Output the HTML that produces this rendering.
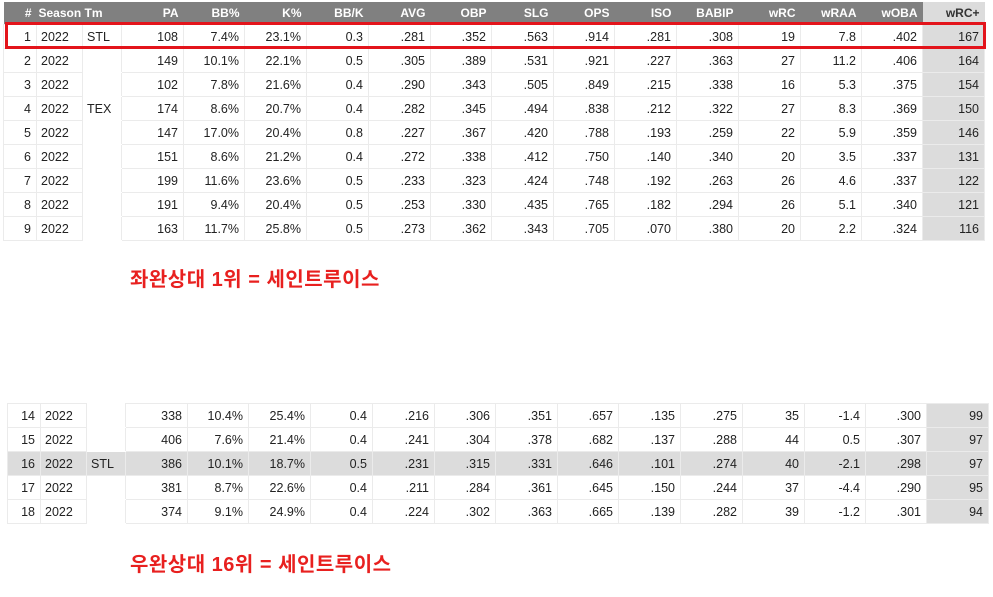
<!DOCTYPE html>
<html><head><meta charset="utf-8"><style>
body{margin:0;width:993px;height:597px;background:#fff;position:relative;overflow:hidden;font-family:"Liberation Sans","Noto Sans CJK KR",sans-serif;}
table{border-collapse:collapse;position:absolute;font-size:12.5px;color:#222;table-layout:fixed;}
td,th{height:23px;padding:0 5px;text-align:right;border:1px solid #ebebeb;white-space:nowrap;overflow:hidden;}
th{background:#808080;color:#fff;font-weight:bold;height:22px;border:none;font-size:12px;}
th.w{background:#dcdcdc;color:#333;}
td.w{background:#dcdcdc;}
td.l,th.l{text-align:left;padding-left:4px;}
th.l{padding-left:2px;padding-right:0;}
tr.g td{background:#dcdcdc;}
td.t{border-top-color:#fff;border-bottom-color:#fff;}
.lab{position:absolute;color:#e8201f;font-weight:bold;font-size:20px;letter-spacing:0.5px;}
.box{position:absolute;left:5px;top:22px;width:975px;height:21px;border:3px solid #e3141b;}
</style></head><body>
<table style="left:3px;top:2px;width:981px">
<colgroup><col style="width:33px"><col style="width:46px"><col style="width:39px"><col style="width:62px"><col style="width:61px"><col style="width:62px"><col style="width:62px"><col style="width:62px"><col style="width:61px"><col style="width:62px"><col style="width:61px"><col style="width:62px"><col style="width:62px"><col style="width:62px"><col style="width:61px"><col style="width:61px"><col style="width:62px"></colgroup>
<tr><th>#</th><th class="l">Season</th><th class="l">Tm</th><th>PA</th><th>BB%</th><th>K%</th><th>BB/K</th><th>AVG</th><th>OBP</th><th>SLG</th><th>OPS</th><th>ISO</th><th>BABIP</th><th>wRC</th><th>wRAA</th><th>wOBA</th><th class="w">wRC+</th></tr>
<tr><td>1</td><td class="l">2022</td><td class="l">STL</td><td>108</td><td>7.4%</td><td>23.1%</td><td>0.3</td><td>.281</td><td>.352</td><td>.563</td><td>.914</td><td>.281</td><td>.308</td><td>19</td><td>7.8</td><td>.402</td><td class="w">167</td></tr>
<tr><td>2</td><td class="l">2022</td><td class="l t"></td><td>149</td><td>10.1%</td><td>22.1%</td><td>0.5</td><td>.305</td><td>.389</td><td>.531</td><td>.921</td><td>.227</td><td>.363</td><td>27</td><td>11.2</td><td>.406</td><td class="w">164</td></tr>
<tr><td>3</td><td class="l">2022</td><td class="l t"></td><td>102</td><td>7.8%</td><td>21.6%</td><td>0.4</td><td>.290</td><td>.343</td><td>.505</td><td>.849</td><td>.215</td><td>.338</td><td>16</td><td>5.3</td><td>.375</td><td class="w">154</td></tr>
<tr><td>4</td><td class="l">2022</td><td class="l t">TEX</td><td>174</td><td>8.6%</td><td>20.7%</td><td>0.4</td><td>.282</td><td>.345</td><td>.494</td><td>.838</td><td>.212</td><td>.322</td><td>27</td><td>8.3</td><td>.369</td><td class="w">150</td></tr>
<tr><td>5</td><td class="l">2022</td><td class="l t"></td><td>147</td><td>17.0%</td><td>20.4%</td><td>0.8</td><td>.227</td><td>.367</td><td>.420</td><td>.788</td><td>.193</td><td>.259</td><td>22</td><td>5.9</td><td>.359</td><td class="w">146</td></tr>
<tr><td>6</td><td class="l">2022</td><td class="l t"></td><td>151</td><td>8.6%</td><td>21.2%</td><td>0.4</td><td>.272</td><td>.338</td><td>.412</td><td>.750</td><td>.140</td><td>.340</td><td>20</td><td>3.5</td><td>.337</td><td class="w">131</td></tr>
<tr><td>7</td><td class="l">2022</td><td class="l t"></td><td>199</td><td>11.6%</td><td>23.6%</td><td>0.5</td><td>.233</td><td>.323</td><td>.424</td><td>.748</td><td>.192</td><td>.263</td><td>26</td><td>4.6</td><td>.337</td><td class="w">122</td></tr>
<tr><td>8</td><td class="l">2022</td><td class="l t"></td><td>191</td><td>9.4%</td><td>20.4%</td><td>0.5</td><td>.253</td><td>.330</td><td>.435</td><td>.765</td><td>.182</td><td>.294</td><td>26</td><td>5.1</td><td>.340</td><td class="w">121</td></tr>
<tr><td>9</td><td class="l">2022</td><td class="l t"></td><td>163</td><td>11.7%</td><td>25.8%</td><td>0.5</td><td>.273</td><td>.362</td><td>.343</td><td>.705</td><td>.070</td><td>.380</td><td>20</td><td>2.2</td><td>.324</td><td class="w">116</td></tr>
</table>
<div class="box"></div>
<div class="lab" style="left:130px;top:263px">좌완상대 1위 = 세인트루이스</div>
<table style="left:7px;top:403px;width:981px">
<colgroup><col style="width:33px"><col style="width:46px"><col style="width:39px"><col style="width:62px"><col style="width:61px"><col style="width:62px"><col style="width:62px"><col style="width:62px"><col style="width:61px"><col style="width:62px"><col style="width:61px"><col style="width:62px"><col style="width:62px"><col style="width:62px"><col style="width:61px"><col style="width:61px"><col style="width:62px"></colgroup>
<tr><td>14</td><td class="l">2022</td><td class="l t"></td><td>338</td><td>10.4%</td><td>25.4%</td><td>0.4</td><td>.216</td><td>.306</td><td>.351</td><td>.657</td><td>.135</td><td>.275</td><td>35</td><td>-1.4</td><td>.300</td><td class="w">99</td></tr>
<tr><td>15</td><td class="l">2022</td><td class="l t"></td><td>406</td><td>7.6%</td><td>21.4%</td><td>0.4</td><td>.241</td><td>.304</td><td>.378</td><td>.682</td><td>.137</td><td>.288</td><td>44</td><td>0.5</td><td>.307</td><td class="w">97</td></tr>
<tr class="g"><td>16</td><td class="l">2022</td><td class="l">STL</td><td>386</td><td>10.1%</td><td>18.7%</td><td>0.5</td><td>.231</td><td>.315</td><td>.331</td><td>.646</td><td>.101</td><td>.274</td><td>40</td><td>-2.1</td><td>.298</td><td class="w">97</td></tr>
<tr><td>17</td><td class="l">2022</td><td class="l t"></td><td>381</td><td>8.7%</td><td>22.6%</td><td>0.4</td><td>.211</td><td>.284</td><td>.361</td><td>.645</td><td>.150</td><td>.244</td><td>37</td><td>-4.4</td><td>.290</td><td class="w">95</td></tr>
<tr><td>18</td><td class="l">2022</td><td class="l t"></td><td>374</td><td>9.1%</td><td>24.9%</td><td>0.4</td><td>.224</td><td>.302</td><td>.363</td><td>.665</td><td>.139</td><td>.282</td><td>39</td><td>-1.2</td><td>.301</td><td class="w">94</td></tr>
</table>
<div class="lab" style="left:130px;top:548px">우완상대 16위 = 세인트루이스</div>
</body></html>
